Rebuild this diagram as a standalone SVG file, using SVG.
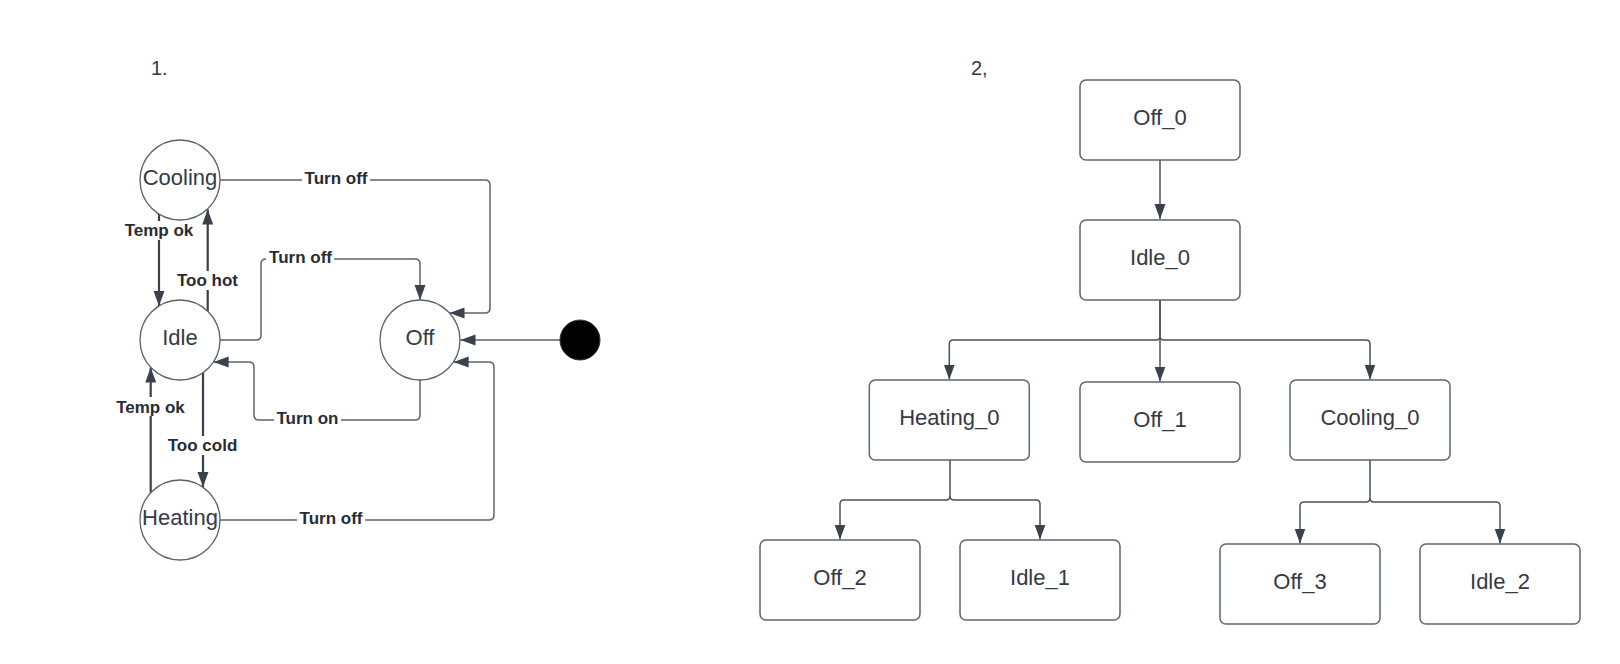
<svg xmlns="http://www.w3.org/2000/svg" width="1620" height="664" viewBox="0 0 1620 664">
  <defs>
    <marker id="arr" markerUnits="userSpaceOnUse" markerWidth="16" markerHeight="12" refX="15" refY="5.5" orient="auto">
      <path d="M0,0 L15,5.5 L0,11 z" fill="#3a414a"/>
    </marker>
    <style>
      .bg { fill: #ffffff; }
      .circ { fill: #ffffff; stroke: #5a5f68; stroke-width: 1.3; }
      .box { fill: #ffffff; stroke: #5f6670; stroke-width: 1.5; }
      .ntext { font-family: "Liberation Sans", Arial, sans-serif; font-size: 22px; fill: #343a45; text-anchor: middle; }
      .title { font-family: "Liberation Sans", Arial, sans-serif; font-size: 20px; fill: #343a45; }
      .lbl { font-family: "Liberation Sans", Arial, sans-serif; font-size: 17px; font-weight: bold; fill: #282c33; text-anchor: middle; }
      .lblbg { fill: #ffffff; }
      .ln { fill: none; stroke: #5c6370; stroke-width: 1.5; }
      .vln { fill: none; stroke: #3a414a; stroke-width: 2.2; }
      .tln { fill: none; stroke: #4a5059; stroke-width: 1.5; }
      .arrow { marker-end: url(#arr); }
    </style>
  </defs>
  <rect class="bg" x="0" y="0" width="1620" height="664"/>

  <text class="title" x="151" y="75">1.</text>
  <text class="title" x="971" y="75">2,</text>

  <g id="connectors">
    <!-- left state machine -->
    <path class="ln arrow" d="M219.5,180 H485 Q490,180 490,185 V308 Q490,313 485,313 H449.5"/>
    <path class="ln arrow" d="M220,340 H256 Q261,340 261,335 V264 Q261,259 266,259 H415 Q420,259 420,264 V300"/>
    <path class="ln arrow" d="M420,380 V415 Q420,420 415,420 H259 Q254,420 254,415 V367 Q254,362 249,362 H213.6"/>
    <path class="ln arrow" d="M220,520 H489 Q494,520 494,515 V367 Q494,362 489,362 H453.6"/>
    <path class="ln arrow" d="M560,340 H460.5"/>
    <path class="vln arrow" d="M159,214 V306"/>
    <path class="vln arrow" d="M207.7,311 V209.5"/>
    <path class="vln arrow" d="M150.7,492.8 V367.5"/>
    <path class="vln arrow" d="M203,372.7 V487"/>

    <!-- labels -->
    <rect class="lblbg" x="302" y="170" width="68" height="19"/>
    <text class="lbl" x="336" y="184">Turn off</text>
    <rect class="lblbg" x="266" y="249" width="68" height="19"/>
    <text class="lbl" x="300.5" y="263">Turn off</text>
    <rect class="lblbg" x="274" y="409" width="67" height="19"/>
    <text class="lbl" x="307.5" y="424">Turn on</text>
    <rect class="lblbg" x="297" y="509" width="68" height="19"/>
    <text class="lbl" x="331" y="524">Turn off</text>
    <rect class="lblbg" x="122" y="221" width="74" height="19"/>
    <text class="lbl" x="159" y="236">Temp ok</text>
    <rect class="lblbg" x="175" y="271" width="66" height="19"/>
    <text class="lbl" x="207.5" y="286">Too hot</text>
    <rect class="lblbg" x="114" y="397" width="74" height="19"/>
    <text class="lbl" x="150.5" y="413">Temp ok</text>
    <rect class="lblbg" x="165" y="436" width="75" height="19"/>
    <text class="lbl" x="202.5" y="451">Too cold</text>

    <!-- right tree -->
    <path class="tln arrow" d="M1160,160 V219"/>
    <path class="tln arrow" d="M1160,300 V336 Q1160,340 1156,340 H953.3 Q949.3,340 949.3,344 V379.5"/>
    <path class="tln arrow" d="M1160,300 V381.5"/>
    <path class="tln arrow" d="M1160,336 Q1160,340 1164,340 H1366 Q1370,340 1370,344 V379.5"/>
    <path class="tln arrow" d="M950,460 V496 Q950,500 946,500 H844 Q840,500 840,504 V539.5"/>
    <path class="tln arrow" d="M950,496 Q950,500 954,500 H1036 Q1040,500 1040,504 V539.5"/>
    <path class="tln arrow" d="M1370,460 V498 Q1370,502 1366,502 H1304 Q1300,502 1300,506 V543.5"/>
    <path class="tln arrow" d="M1370,498 Q1370,502 1374,502 H1496 Q1500,502 1500,506 V543.5"/>
  </g>

  <g id="cooling">
    <circle class="circ" cx="180" cy="180" r="40"/>
    <text class="ntext" x="180" y="185">Cooling</text>
  </g>
  <g id="idle">
    <circle class="circ" cx="180" cy="340" r="40"/>
    <text class="ntext" x="180" y="345">Idle</text>
  </g>
  <g id="heating">
    <circle class="circ" cx="180" cy="520" r="40"/>
    <text class="ntext" x="180" y="525">Heating</text>
  </g>
  <g id="off">
    <circle class="circ" cx="420" cy="340" r="40"/>
    <text class="ntext" x="420" y="345">Off</text>
  </g>
  <g id="initial">
    <circle cx="580" cy="340" r="20" fill="#000000" stroke="#333333" stroke-width="1"/>
  </g>

  <g id="off_0">
    <rect class="box" x="1080" y="80" width="160" height="80" rx="6"/>
    <text class="ntext" x="1160" y="125">Off_0</text>
  </g>
  <g id="idle_0">
    <rect class="box" x="1080" y="220" width="160" height="80" rx="6"/>
    <text class="ntext" x="1160" y="265">Idle_0</text>
  </g>
  <g id="heating_0">
    <rect class="box" x="869.3" y="380" width="160" height="80" rx="6"/>
    <text class="ntext" x="949.3" y="425">Heating_0</text>
  </g>
  <g id="off_1">
    <rect class="box" x="1080" y="382" width="160" height="80" rx="6"/>
    <text class="ntext" x="1160" y="427">Off_1</text>
  </g>
  <g id="cooling_0">
    <rect class="box" x="1290" y="380" width="160" height="80" rx="6"/>
    <text class="ntext" x="1370" y="425">Cooling_0</text>
  </g>
  <g id="off_2">
    <rect class="box" x="760" y="540" width="160" height="80" rx="6"/>
    <text class="ntext" x="840" y="585">Off_2</text>
  </g>
  <g id="idle_1">
    <rect class="box" x="960" y="540" width="160" height="80" rx="6"/>
    <text class="ntext" x="1040" y="585">Idle_1</text>
  </g>
  <g id="off_3">
    <rect class="box" x="1220" y="544" width="160" height="80" rx="6"/>
    <text class="ntext" x="1300" y="589">Off_3</text>
  </g>
  <g id="idle_2">
    <rect class="box" x="1420" y="544" width="160" height="80" rx="6"/>
    <text class="ntext" x="1500" y="589">Idle_2</text>
  </g>
</svg>
